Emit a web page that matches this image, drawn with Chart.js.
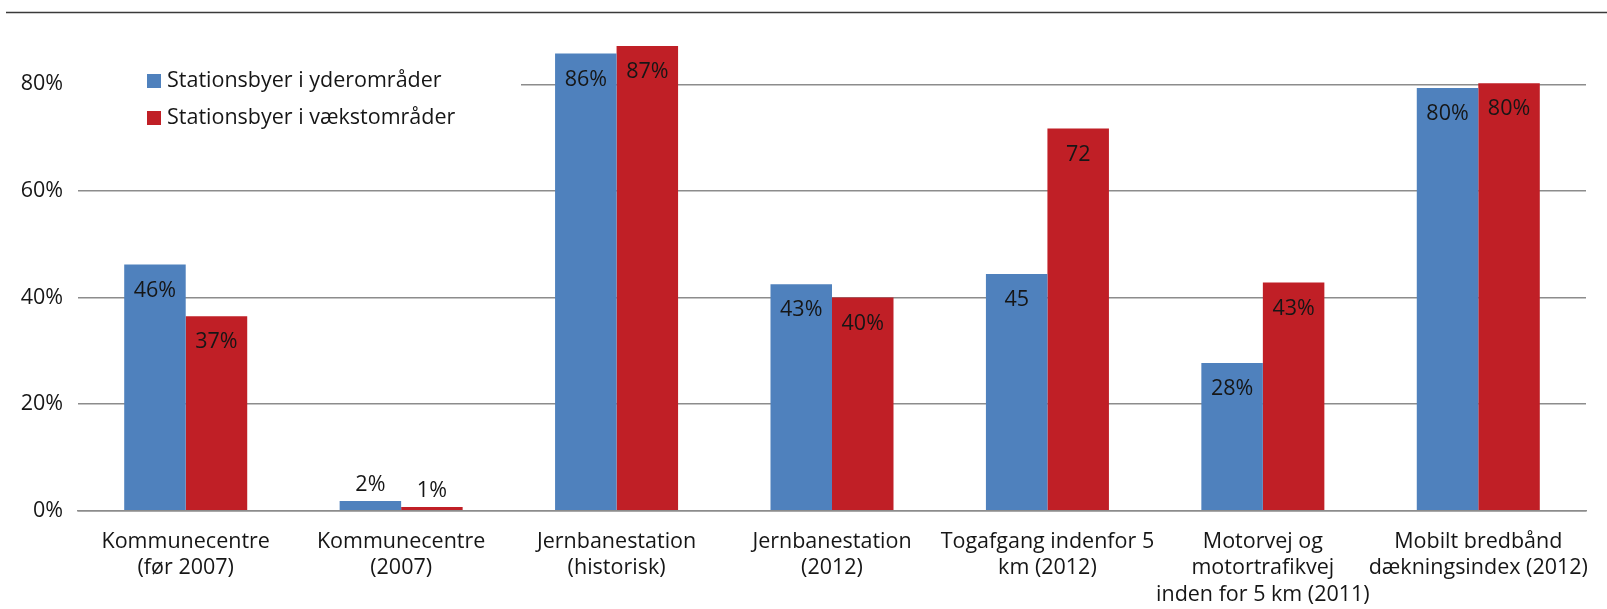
<!DOCTYPE html>
<html>
<head>
<meta charset="utf-8">
<script src="https://cdn.jsdelivr.net/npm/chart.js@4/dist/chart.umd.min.js"></script>
<style>
  html, body { margin: 0; padding: 0; background: #ffffff; }
  #wrap { position: relative; width: 1607px; height: 609px; }
</style>
</head>
<body>
<div id="wrap"><canvas id="stationChart"></canvas></div>
<script>
const categories = [
  ['Kommunecentre', '(før 2007)'],
  ['Kommunecentre', '(2007)'],
  ['Jernbanestation', '(historisk)'],
  ['Jernbanestation', '(2012)'],
  ['Togafgang indenfor 5', 'km (2012)'],
  ['Motorvej og', 'motortrafikvej', 'inden for 5 km (2011)'],
  ['Mobilt bredbånd', 'dækningsindex (2012)']
];
const seriesNames = ['Stationsbyer i yderområder', 'Stationsbyer i vækstområder'];
const yderValues = [46.2, 1.8, 85.8, 42.5, 44.4, 27.7, 79.3];
const vaekstValues = [36.5, 0.7, 87.2, 40.0, 71.7, 42.8, 80.2];
const yderLabels = ['46%', '2%', '86%', '43%', '45', '28%', '80%'];
const vaekstLabels = ['37%', '1%', '87%', '40%', '72', '43%', '80%'];
const yTicks = [0, 20, 40, 60, 80];

const FONT = '"Open Sans", "DejaVu Sans", sans-serif';
const SIZE = 21.5;
const TEXT = '#161616';
const BLUE = '#4f81bd';
const RED = '#c01f26';

// value labels drawn inside the bar end (above when the bar is too short)
const barLabels = {
  id: 'barLabels',
  afterDatasetsDraw(chart) {
    const ctx = chart.ctx;
    ctx.save();
    ctx.font = SIZE + 'px ' + FONT;
    ctx.fillStyle = TEXT;
    ctx.textAlign = 'center';
    ctx.textBaseline = 'middle';
    chart.data.datasets.forEach((ds, i) => {
      chart.getDatasetMeta(i).data.forEach((bar, j) => {
        const h = bar.base - bar.y;
        const y = h < 30 ? bar.y - 16 : bar.y + 26;
        ctx.fillText(ds.valueLabels[j], bar.x, y);
      });
    });
    ctx.restore();
  }
};

// legend boxed inside the plot, plus the page rule at the top
const boxLegend = {
  id: 'boxLegend',
  beforeDraw(chart) {
    const ctx = chart.ctx;
    ctx.save();
    ctx.strokeStyle = '#3a3a3a';
    ctx.lineWidth = 1.5;
    ctx.beginPath();
    ctx.moveTo(6, 12.5);
    ctx.lineTo(chart.width, 12.5);
    ctx.stroke();
    ctx.restore();
  },
  afterDraw(chart) {
    const ctx = chart.ctx;
    const area = chart.chartArea;
    const x0 = area.left + 69;
    ctx.save();
    ctx.fillStyle = '#ffffff';
    ctx.fillRect(area.left - 3, 62, 446, 72);
    ctx.font = SIZE + 'px ' + FONT;
    ctx.textBaseline = 'middle';
    chart.data.datasets.forEach((ds, i) => {
      const y = 81 + i * 37;
      ctx.fillStyle = ds.backgroundColor;
      ctx.fillRect(x0, y - 7, 14, 14);
      ctx.fillStyle = TEXT;
      ctx.fillText(ds.label, x0 + 20, y);
    });
    ctx.restore();
  }
};

const ctx = document.getElementById('stationChart').getContext('2d');
const stationChart = new Chart(ctx, {
  type: 'bar',
  data: {
    labels: categories,
    datasets: [
      {
        label: seriesNames[0],
        data: yderValues,
        valueLabels: yderLabels,
        backgroundColor: BLUE,
        categoryPercentage: 0.571,
        barPercentage: 1
      },
      {
        label: seriesNames[1],
        data: vaekstValues,
        valueLabels: vaekstLabels,
        backgroundColor: RED,
        categoryPercentage: 0.571,
        barPercentage: 1
      }
    ]
  },
  options: {
    responsive: true,
    maintainAspectRatio: false,
    animation: false,
    layout: { padding: { left: 0, right: 21, top: 31, bottom: 0 } },
    plugins: {
      legend: { display: false },
      tooltip: { enabled: false }
    },
    scales: {
      x: {
        grid: { display: false },
        border: { display: true, color: '#8c8c8c', width: 1.5 },
        ticks: {
          color: TEXT,
          font: { family: FONT, size: SIZE, lineHeight: 1.23 },
          padding: 10,
          maxRotation: 0,
          autoSkip: false
        },
        afterFit: s => { s.height = 98.3; }
      },
      y: {
        min: 0,
        max: 90,
        afterBuildTicks: s => { s.ticks = yTicks.map(v => ({ value: v })); },
        grid: { color: '#8c8c8c', lineWidth: 1.5, drawTicks: false },
        border: { display: false },
        ticks: {
          color: TEXT,
          font: { family: FONT, size: SIZE },
          padding: 15,
          callback: v => v + '%'
        },
        afterFit: s => { s.width = 78; }
      }
    }
  },
  plugins: [barLabels, boxLegend]
});
</script>
</body>
</html>
